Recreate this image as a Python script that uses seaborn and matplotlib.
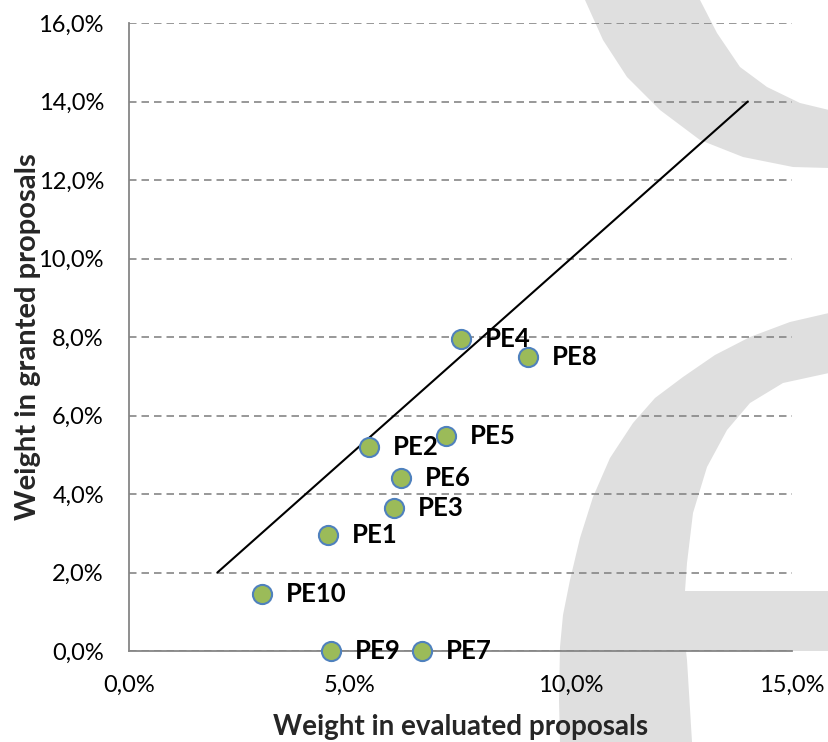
import matplotlib
matplotlib.use("Agg")
import matplotlib.pyplot as plt
import matplotlib.ticker as mticker
from matplotlib.patches import Polygon
import seaborn as sns
import pandas as pd

# ── Data ───────────────────────────────────────────────────────────────────────
PANELS    = ["PE1", "PE2", "PE3", "PE4", "PE5", "PE6", "PE7", "PE8", "PE9", "PE10"]
EVALUATED = [4.50, 5.43, 6.00, 7.51, 7.17, 6.15, 6.63, 9.03, 4.57, 3.01]   # %
GRANTED   = [2.96, 5.20, 3.64, 7.95, 5.48, 4.41, 0.00, 7.49, 0.00, 1.45]   # %
DIAG      = [2.0, 14.0]                                                   # reference line
X_TICKS   = [0, 5, 10, 15]
Y_TICKS   = [0, 2, 4, 6, 8, 10, 12, 14, 16]

df = pd.DataFrame({"panel": PANELS, "evaluated": EVALUATED, "granted": GRANTED})

# ── Style ──────────────────────────────────────────────────────────────────────
sns.set_theme(style="white")
plt.rcParams["font.family"] = ["Lato", "DejaVu Sans"]

W, H = 829, 742
fig = plt.figure(figsize=(W / 100, H / 100), dpi=100)
fig.patch.set_facecolor("white")

# background watermark (light grey "e" shapes), figure pixel coords
WM = "#dfdfdf"
upper = [(585, 0), (603, 40), (627, 77), (660, 110), (700, 140), (743, 157),
         (793, 167), (829, 168), (829, 110), (800, 103), (767, 87), (740, 67),
         (717, 33), (700, 0)]
lower = [(829, 313), (790, 322), (750, 337), (715, 355), (683, 377), (655, 398),
         (633, 423), (610, 458), (593, 497), (580, 538), (570, 580), (563, 615),
         (560, 647), (559, 700), (560, 742), (692, 742), (687, 660), (686, 651),
         (829, 651), (829, 591), (685, 591), (687, 563), (693, 513), (707, 467),
         (727, 430), (750, 403), (783, 383), (829, 373)]
for shape in (upper, lower):
    pts = [(x / W, 1 - y / H) for x, y in shape]
    fig.patches.append(Polygon(pts, closed=True, transform=fig.transFigure,
                               facecolor=WM, edgecolor="none", zorder=0))

ax = fig.add_axes([129 / W, 1 - 651 / H, (792 - 129) / W, (651 - 23) / H])
ax.set_facecolor("none")
ax.set_zorder(1)

# ── Plot ───────────────────────────────────────────────────────────────────────
ax.plot(DIAG, DIAG, color="black", linewidth=1.5, zorder=3)

sns.scatterplot(data=df, x="evaluated", y="granted", ax=ax, s=190,
                color="#9bbb59", edgecolor="#4f81bd", linewidth=1.5,
                zorder=4, clip_on=False, legend=False)

for _, r in df.iterrows():
    ax.annotate(r["panel"], (r["evaluated"], r["granted"]),
                xytext=(17, 0), textcoords="offset points",
                va="center", ha="left", fontsize=18.5, fontweight="bold",
                color="black", zorder=5, annotation_clip=False)

ax.set_xlim(0, 15)
ax.set_ylim(0, 16)
ax.set_xticks(X_TICKS)
ax.set_yticks(Y_TICKS)
fmt = mticker.FuncFormatter(lambda v, _: f"{v:.1f}%".replace(".", ","))
ax.xaxis.set_major_formatter(fmt)
ax.yaxis.set_major_formatter(fmt)
ax.tick_params(axis="both", length=0, labelsize=17, colors="black")
ax.tick_params(axis="y", pad=18)
ax.tick_params(axis="x", pad=17)

ax.yaxis.grid(True, color="#868686", linestyle=(0, (4.5, 3)), linewidth=1.2)
ax.xaxis.grid(False)
ax.set_axisbelow(True)

for side in ("top", "right"):
    ax.spines[side].set_visible(False)
for side in ("left", "bottom"):
    ax.spines[side].set_color("#868686")
    ax.spines[side].set_linewidth(1.3)
    ax.spines[side].set_zorder(2)

ax.set_xlabel("Weight in evaluated proposals", fontsize=20, fontweight="bold")
ax.set_ylabel("Weight in granted proposals", fontsize=21, fontweight="bold")
ax.xaxis.set_label_coords(0.5, -0.1)
ax.xaxis.label.set_va("top")
ax.yaxis.set_label_coords(-0.152, 0.5)
ax.yaxis.label.set_va("center")

fig.savefig("out.png", dpi=100, facecolor="white")
